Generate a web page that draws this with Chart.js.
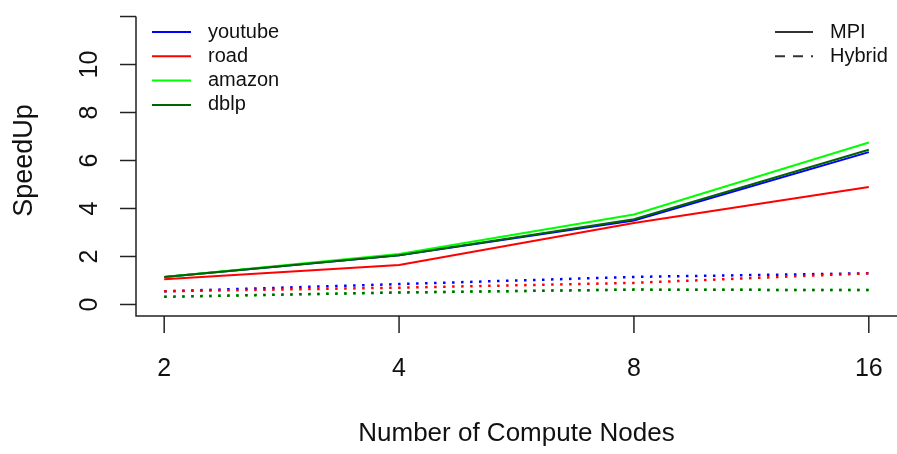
<!DOCTYPE html>
<html>
<head>
<meta charset="utf-8">
<script src="https://cdn.jsdelivr.net/npm/chart.js@4/dist/chart.umd.min.js"></script>
<style>
  body{margin:0;background:#fff;}
  canvas{display:block;}
</style>
</head>
<body>
<canvas id="chart" width="897" height="454"></canvas>
<script>
// data
const nodes = [2, 4, 8, 16];
const graphs = ['youtube', 'road', 'amazon', 'dblp'];
const colors = ['#0000ff', '#ff0000', '#00ff00', '#006400'];
const mpiYoutube = [1.15, 2.05, 3.5, 6.35];
const mpiRoad = [1.05, 1.65, 3.4, 4.9];
const mpiAmazon = [1.15, 2.1, 3.75, 6.75];
const mpiDblp = [1.15, 2.05, 3.55, 6.45];
const hybYoutube = [0.55, 0.85, 1.15, 1.3];
const hybRoad = [0.55, 0.7, 0.9, 1.3];
const hybAmazon = [0.32, 0.5, 0.62, 0.6];
const hybDblp = [0.32, 0.5, 0.62, 0.6];
const yTicks = [0, 2, 4, 6, 8, 10, 12];
const yTickLabels = ['0', '2', '4', '6', '8', '10', ''];
const modes = ['MPI', 'Hybrid'];

const mpi = [mpiYoutube, mpiRoad, mpiAmazon, mpiDblp];
const hyb = [hybYoutube, hybRoad, hybAmazon, hybDblp];

const FONT = '"Liberation Sans", Arial, sans-serif';

function pts(arr){
  return arr.map((v, i) => ({x: nodes[i], y: v}));
}

const datasets = [];
graphs.forEach((g, i) => {
  datasets.push({
    label: g + ' MPI',
    data: pts(mpi[i]),
    borderColor: colors[i],
    borderWidth: 2,
    pointRadius: 0,
    tension: 0,
    order: 10 - i
  });
  datasets.push({
    label: g + ' Hybrid',
    data: pts(hyb[i]),
    borderColor: colors[i],
    borderWidth: 2.5,
    borderDash: [2.5, 6.5],
    borderCapStyle: 'butt',
    pointRadius: 0,
    tension: 0,
    order: 20 - i
  });
});

// axes, labels and legends drawn R style
const rAxes = {
  id: 'rAxes',
  afterDraw(chart){
    const ctx = chart.ctx;
    const xs = chart.scales.x, ys = chart.scales.y;
    const area = chart.chartArea;
    ctx.save();
    ctx.strokeStyle = '#222';
    ctx.fillStyle = '#111';
    ctx.lineWidth = 1.5;

    // box: left + bottom
    ctx.beginPath();
    ctx.moveTo(area.left, ys.getPixelForValue(12));
    ctx.lineTo(area.left, area.bottom);
    ctx.lineTo(area.right, area.bottom);
    ctx.stroke();

    // y ticks
    ctx.font = '25px ' + FONT;
    ctx.textAlign = 'center';
    ctx.textBaseline = 'alphabetic';
    yTicks.forEach((t, i) => {
      const y = ys.getPixelForValue(t);
      ctx.beginPath();
      ctx.moveTo(area.left - 16, y);
      ctx.lineTo(area.left, y);
      ctx.stroke();
      ctx.save();
      ctx.translate(97, y);
      ctx.rotate(-Math.PI / 2);
      ctx.fillText(yTickLabels[i], 0, 0);
      ctx.restore();
    });

    // x ticks
    nodes.forEach(n => {
      const x = xs.getPixelForValue(n);
      ctx.beginPath();
      ctx.moveTo(x, area.bottom);
      ctx.lineTo(x, area.bottom + 17);
      ctx.stroke();
      ctx.fillText(String(n), x, 376);
    });

    // titles
    ctx.font = '26px ' + FONT;
    ctx.fillText('Number of Compute Nodes', (area.left + area.right) / 2, 441);
    ctx.font = '27px ' + FONT;
    ctx.save();
    ctx.translate(32, (area.top + area.bottom) / 2);
    ctx.rotate(-Math.PI / 2);
    ctx.fillText('SpeedUp', 0, 0);
    ctx.restore();

    // legend: graphs
    ctx.font = '20px ' + FONT;
    ctx.textAlign = 'left';
    ctx.textBaseline = 'middle';
    graphs.forEach((g, i) => {
      const y = 32 + i * 24.3;
      ctx.strokeStyle = colors[i];
      ctx.lineWidth = 2;
      ctx.beginPath();
      ctx.moveTo(152, y);
      ctx.lineTo(191, y);
      ctx.stroke();
      ctx.fillText(g, 208, y);
    });

    // legend: modes
    modes.forEach((m, i) => {
      const y = 32 + i * 24.3;
      ctx.strokeStyle = '#333';
      ctx.lineWidth = 2;
      ctx.setLineDash(i === 0 ? [] : [10, 8]);
      ctx.beginPath();
      ctx.moveTo(775, y);
      ctx.lineTo(813, y);
      ctx.stroke();
      ctx.setLineDash([]);
      ctx.fillText(m, 830, y);
    });
    ctx.restore();
  }
};

new Chart(document.getElementById('chart'), {
  type: 'line',
  data: {datasets: datasets},
  options: {
    responsive: false,
    animation: false,
    layout: {padding: {left: 136, right: 0, top: 5, bottom: 138}},
    plugins: {legend: {display: false}, tooltip: {enabled: false}},
    scales: {
      x: {
        type: 'logarithmic',
        min: 2 * Math.pow(2, -0.12),
        max: 16 * Math.pow(2, 0.12),
        display: false
      },
      y: {
        type: 'linear',
        min: -0.48,
        max: 12.48,
        display: false
      }
    }
  },
  plugins: [rAxes]
});
</script>
</body>
</html>
